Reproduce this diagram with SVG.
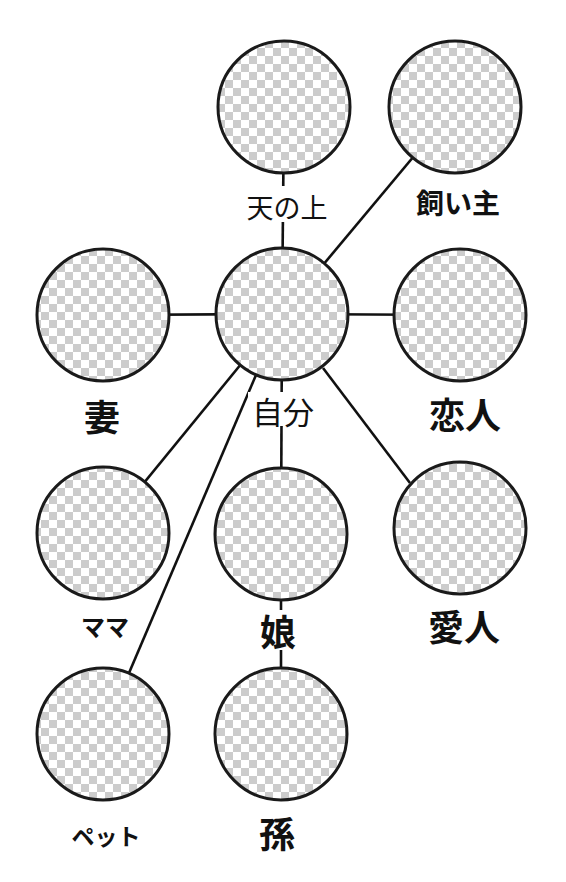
<svg xmlns="http://www.w3.org/2000/svg" width="566" height="882" viewBox="0 0 566 882">
<style>
.node circle{fill:url(#chk);stroke:#1a1a1a;stroke-width:3}
.edges line{stroke:#111;stroke-width:2.6}
text{font-family:"Noto Sans CJK JP","Noto Sans CJK SC",sans-serif;font-weight:700;fill:#111;text-anchor:middle;dominant-baseline:central}
text.thin{font-weight:400}
.bg{fill:#fff}
</style>
<defs>
<pattern id="chk" patternUnits="userSpaceOnUse" width="16" height="16" x="1" y="0">
<rect width="16" height="16" fill="#fff"/>
<rect width="8" height="8" fill="#cccccc"/>
<rect x="8" y="8" width="8" height="8" fill="#cccccc"/>
</pattern>
</defs>
<rect width="566" height="882" fill="#fff"/>
<g class="edges">
<line x1="284" y1="107" x2="282" y2="314"/>
<line x1="455" y1="107" x2="282" y2="314"/>
<line x1="103" y1="315" x2="282" y2="314"/>
<line x1="460" y1="315" x2="282" y2="314"/>
<line x1="103" y1="533" x2="282" y2="314"/>
<line x1="103" y1="734" x2="282" y2="314"/>
<line x1="281" y1="534" x2="282" y2="314"/>
<line x1="323" y1="368" x2="410" y2="483"/>
<line x1="281" y1="734" x2="281" y2="534"/>
</g>
<g id="n-tennoue" class="node"><circle cx="284" cy="107" r="66"/><rect class="bg" x="244" y="186" width="88" height="36"/><text class="thin" x="287" y="206" font-size="27">天の上</text></g>
<g id="n-kainushi" class="node"><circle cx="455" cy="107" r="66"/><text x="458" y="202" font-size="28">飼い主</text></g>
<g id="n-tsuma" class="node"><circle cx="103" cy="315" r="66"/><text x="102" y="415" font-size="36">妻</text></g>
<g id="n-jibun" class="node"><circle cx="282" cy="314" r="66"/><rect class="bg" x="248" y="392" width="70" height="34"/><text class="thin" x="283" y="410" font-size="31">自分</text></g>
<g id="n-koibito" class="node"><circle cx="460" cy="315" r="66"/><text x="465" y="413" font-size="36">恋人</text></g>
<g id="n-mama" class="node"><circle cx="103" cy="533" r="66"/><text x="105" y="625" font-size="24">ママ</text></g>
<g id="n-musume" class="node"><circle cx="281" cy="534" r="66"/><rect class="bg" x="256" y="610" width="44" height="40"/><text x="278" y="630" font-size="36">娘</text></g>
<g id="n-aijin" class="node"><circle cx="460" cy="528" r="66"/><text x="464" y="625" font-size="36">愛人</text></g>
<g id="n-petto" class="node"><circle cx="103" cy="734" r="66"/><text x="106" y="835" font-size="23">ペット</text></g>
<g id="n-mago" class="node"><circle cx="281" cy="734" r="66"/><text x="277" y="832" font-size="36">孫</text></g>
</svg>
